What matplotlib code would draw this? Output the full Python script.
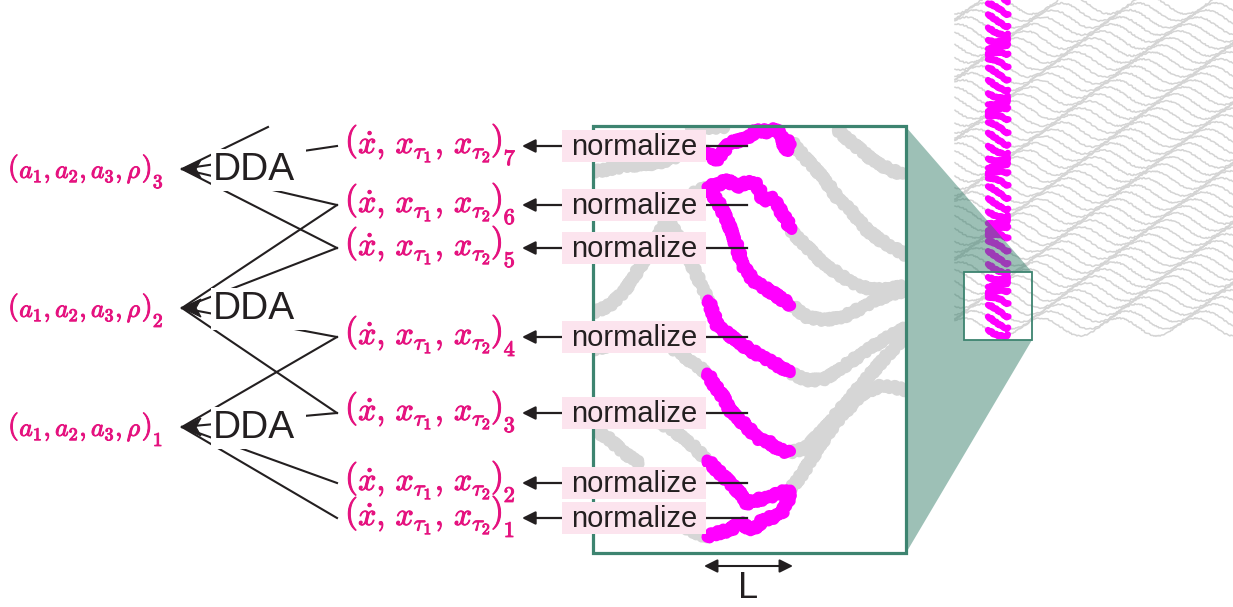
import matplotlib
matplotlib.use("Agg")

import matplotlib.pyplot as plt
import matplotlib.patheffects as pe
from matplotlib.patches import Rectangle, Polygon
import numpy as np

plt.rcParams["mathtext.fontset"] = "cm"
plt.rcParams["font.family"] = ["Liberation Sans", "DejaVu Sans"]

W, H = 1233, 607

PINK = "#e5127f"
MAGENTA = "#ff00ff"
INK = "#231f20"
TEAL = "#3d8470"
SHADE = "#327d68"
GRAY = "#d6d6d6"
LABEL_BG = "#fce4ee"

# embedding windows (x_dot, x_tau1, x_tau2)_k, k = 1..7 ; y of each row
window_ids = [1, 2, 3, 4, 5, 6, 7]
window_y = [518, 483, 413, 337, 248, 205, 146]

# DDA blocks and their parameter outputs (a1, a2, a3, rho)_k
dda_ids = [1, 2, 3]
dda_y = [427, 308, 169]
dda_inputs = [[1, 2, 3, 4], [3, 4, 5, 6], [5, 6, 7, 8]]
# window 8 lies above the figure, its line is cut short
off_window = {8: (268, 127)}

# highlighted (magenta) pieces of trajectories inside the zoom box
magenta_tracks = [
    [(707, 152), (716, 160), (730, 143), (747, 138), (757, 130), (770, 132), (776, 128), (783, 140), (786, 152), (790, 140)],
    [(707, 187), (717, 185), (727, 180), (737, 187), (747, 182), (757, 184), (763, 200), (773, 198), (780, 210), (787, 220), (790, 230)],
    [(708, 190), (717, 200), (723, 212), (730, 227), (737, 247), (743, 266), (753, 280), (763, 287), (773, 293), (783, 300), (791, 305)],
    [(708, 300), (713, 313), (718, 327), (727, 333), (740, 343), (750, 350), (763, 357), (773, 363), (783, 368), (790, 373)],
    [(707, 373), (713, 383), (723, 397), (730, 410), (740, 420), (750, 430), (760, 440), (770, 443), (780, 450), (790, 453)],
    [(707, 460), (717, 470), (730, 483), (740, 493), (747, 503), (757, 500), (770, 497), (780, 493), (790, 490)],
    [(707, 537), (717, 533), (730, 530), (740, 523), (753, 530), (763, 520), (773, 517), (782, 513), (788, 500), (790, 490)],
]

# the rest of those trajectories (gray)
gray_tracks = [
    [(593, 172), (625, 166), (657, 163), (690, 153), (707, 152)],
    [(593, 313), (610, 305), (623, 293), (640, 267), (657, 237), (673, 210), (690, 195), (707, 187)],
    [(665, 215), (680, 240), (692, 265), (700, 282), (708, 300)],
    [(593, 350), (610, 345), (640, 340), (660, 342), (680, 353), (693, 363), (707, 373)],
    [(593, 430), (607, 437), (623, 452), (640, 463)],
    [(640, 415), (655, 420), (673, 430), (690, 443), (707, 460)],
    [(685, 528), (707, 537)],
    [(690, 128), (725, 127)],
    [(790, 140), (807, 160), (823, 177), (837, 197), (853, 213), (867, 230), (880, 240), (906, 255)],
    [(837, 130), (857, 147), (873, 160), (890, 170), (906, 175)],
    [(790, 230), (807, 247), (823, 263), (843, 277), (860, 287), (883, 290), (906, 286)],
    [(791, 305), (807, 317), (823, 320), (843, 317), (863, 307), (883, 297), (906, 290)],
    [(790, 373), (807, 380), (823, 380), (843, 367), (863, 353), (883, 340), (906, 328)],
    [(790, 453), (807, 447), (823, 430), (843, 407), (863, 383), (883, 360), (906, 335)],
    [(790, 490), (803, 473), (817, 450), (830, 430), (847, 410), (863, 393), (883, 385), (906, 390)],
]

# one period of the oscillation in the right panel (fraction of period, offset px)
wave_t = [0.0, 0.0625, 0.125, 0.1875, 0.25, 0.3125, 0.375, 0.4375, 0.5,
          0.5625, 0.625, 0.6875, 0.75, 0.8125, 0.875, 0.9375, 1.0]
wave_y = [9, 8.3, 6.4, 3.4, 0, -3.4, -6.4, -8.3, -9,
          -8.3, -6.4, -3.4, 0, 3.4, 6.4, 8.3, 9]
wave_period = 77
row_gap = 7
row_shift = 9
n_rows = 47
panel_x0 = 955
window_x = (988, 1008)

fig = plt.figure(figsize=(W / 100, H / 100), dpi=100)
ax = fig.add_axes([0, 0, 1, 1])
ax.set_xlim(0, W)
ax.set_ylim(H, 0)
ax.axis("off")
renderer = fig.canvas.get_renderer()
heavy = [pe.withStroke(linewidth=0.7, foreground=PINK)]


def right_edge(t):
    bb = t.get_window_extent(renderer)
    return ax.transData.inverted().transform((bb.x1, bb.y0))[0]


def tuple_label(x, y, body, sub, size, paren_size, sub_size, base_dy, paren_dy, sub_dy):
    kw = dict(color=PINK, ha="left", path_effects=heavy)
    t = ax.text(x, y + paren_dy, r"$($", fontsize=paren_size, va="center", **kw)
    t = ax.text(right_edge(t), y + base_dy, body, fontsize=size, va="baseline", **kw)
    t = ax.text(right_edge(t), y + paren_dy, r"$)$", fontsize=paren_size, va="center", **kw)
    ax.text(right_edge(t) + 1, y + sub_dy, r"$%d$" % sub, fontsize=sub_size, va="baseline", **kw)


# ---- right panel: stacked trajectories ----
xs = np.arange(panel_x0, W + 5, 1.0)
for i in range(n_rows):
    phase = ((xs - panel_x0 + i * row_shift) / wave_period) % 1.0
    ys = 5 + i * row_gap + np.interp(phase, wave_t, wave_y)
    ln, = ax.plot(xs, ys, color="#d4d4d4", lw=1.1, zorder=1)
    ln.set_sketch_params(0.6, 4, 6)
    m = (xs >= window_x[0]) & (xs <= window_x[1])
    ln, = ax.plot(xs[m], ys[m], color=MAGENTA, lw=4.6, solid_capstyle="round", zorder=2)
    ln.set_sketch_params(0.8, 4, 4)

# shaded projection from big box to the small box
shade = Polygon([(906, 127), (1032, 272), (964, 272), (964, 340), (1032, 340), (906, 553)],
                closed=True, facecolor=SHADE, edgecolor="none", alpha=0.48, zorder=3)
ax.add_patch(shade)
ax.add_patch(Rectangle((964, 272), 68, 68, fill=False, edgecolor=TEAL, lw=1.3, zorder=4))

# ---- zoom box ----
box = Rectangle((593, 126), 313, 427, fill=False, edgecolor=TEAL, lw=2.3, zorder=4)
ax.add_patch(box)
clip = Rectangle((593, 126), 313, 427, transform=ax.transData)
for tr in gray_tracks:
    x, y = zip(*tr)
    ln, = ax.plot(x, y, color=GRAY, lw=7.5, solid_capstyle="round", solid_joinstyle="round", zorder=1)
    ln.set_clip_path(clip)
    ln.set_sketch_params(2.5, 6, 3)
for tr in magenta_tracks:
    x, y = zip(*tr)
    ln, = ax.plot(x, y, color=MAGENTA, lw=8, solid_capstyle="round", solid_joinstyle="round", zorder=2)
    ln.set_sketch_params(2.5, 6, 3)

# L scale
ax.annotate("", xy=(704, 566), xytext=(793, 566),
            arrowprops=dict(arrowstyle="<|-|>", color=INK, lw=1.5, mutation_scale=20, shrinkA=0, shrinkB=0))
ax.text(748, 589, "L", fontsize=26, color=INK, ha="center", va="center")

# ---- normalize blocks and windows ----
for k, y in zip(window_ids, window_y):
    ax.plot([706, 747], [y, y], color=INK, lw=1.6, zorder=5)
    ax.add_patch(Rectangle((562, y - 16), 144, 32, facecolor=LABEL_BG, edgecolor="none", zorder=6))
    ax.text(634, y + 1, "normalize", fontsize=21, color=INK, ha="center", va="center", zorder=7)
    ax.annotate("", xy=(522, y), xytext=(562, y),
                arrowprops=dict(arrowstyle="-|>", color=INK, lw=1.6, mutation_scale=20, shrinkA=0, shrinkB=0))
    tuple_label(345, y, r"$\dot{x},\,x_{\tau_1},\,x_{\tau_2}$", k,
                size=23, paren_size=24, sub_size=16, base_dy=7, paren_dy=-5, sub_dy=19)

# ---- DDA blocks ----
tip_x, anchor_x = 182, 337
win_pos = dict(zip(window_ids, window_y))
for k, c, inputs in zip(dda_ids, dda_y, dda_inputs):
    for w in inputs:
        if w in off_window:
            ex, ey = off_window[w]
        else:
            ex, ey = anchor_x, win_pos[w]
        ax.plot([tip_x, ex], [c, ey], color=INK, lw=1.5, zorder=8)
    ax.add_patch(Rectangle((211, c - 20), 95, 42, facecolor="white", edgecolor="none", zorder=9))
    ax.text(213, c + 1, "DDA", fontsize=28, color=INK, ha="left", va="center", zorder=10)
    ax.add_patch(Polygon([(tip_x, c), (201, c - 9), (196, c), (201, c + 9)],
                         closed=True, facecolor=INK, edgecolor=INK, lw=0.8, zorder=10))
    tuple_label(8, c, r"$a_1,a_2,a_3,\rho$", k,
                size=18.5, paren_size=20, sub_size=14, base_dy=9, paren_dy=-1, sub_dy=19)

fig.savefig("out.png", dpi=100)
